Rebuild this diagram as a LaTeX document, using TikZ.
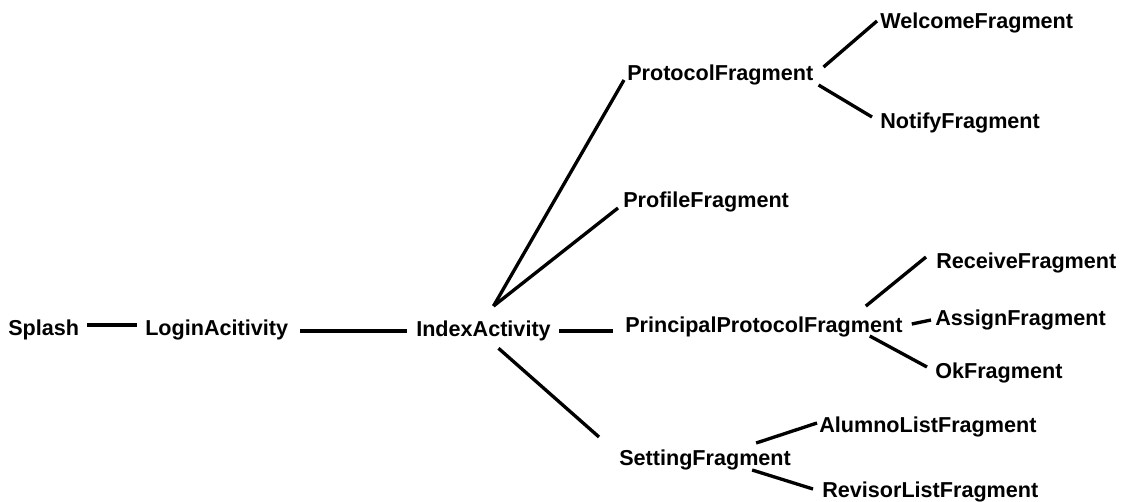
\documentclass[tikz,border=0pt]{standalone}
\usepackage{fontspec}
\setmainfont{Liberation Sans}
\usepackage{tikz}

\begin{document}
\begin{tikzpicture}
[x=0.75pt, y=-0.75pt,
screen/.style={anchor=base west, inner sep=0pt, text depth=0pt,
  font=\fontsize{16.2}{19}\selectfont\bfseries},
link/.style={line width=2.5pt}]
  \useasboundingbox (0,0) rectangle (1124,501);

  \node [screen] (splash) at (8,335) {Splash};
  \node [screen] (login) at (145,335) {LoginAcitivity};
  \node [screen] (index) at (416,336) {IndexActivity};
  \node [screen] (protocol) at (627,80) {ProtocolFragment};
  \node [screen] (profile) at (623,207) {ProfileFragment};
  \node [screen] (principal) at (625,332) {PrincipalProtocolFragment};
  \node [screen] (setting) at (619,465) {SettingFragment};
  \node [screen] (welcome) at (880,28) {WelcomeFragment};
  \node [screen] (notify) at (880,128) {NotifyFragment};
  \node [screen] (receive) at (936,268) {ReceiveFragment};
  \node [screen] (assign) at (935,325) {AssignFragment};
  \node [screen] (ok) at (935,378) {OkFragment};
  \node [screen] (alumno) at (819,432) {AlumnoListFragment};
  \node [screen] (revisor) at (822,497) {RevisorListFragment};

  \draw [link] ([shift={(8,-10)}]splash.base east) -- ([shift={(-8,-10)}]login.base west);
  \draw [link] ([shift={(12,-4)}]login.base east) -- ([shift={(-9,-5)}]index.base west);
  \draw [link] ([shift={(8,-5)}]index.base east) -- ([shift={(-12,-1)}]principal.base west);
  \draw [link] ([shift={(10,-14)}]index.north) -- ([shift={(-3,0)}]protocol.base west);
  \draw [link] ([shift={(10,-14)}]index.north) -- ([shift={(-5,1)}]profile.base west);
  \draw [link] ([shift={(15,12)}]index.south) -- ([shift={(-20,-28)}]setting.base west);
  \draw [link] ([shift={(10,-13)}]protocol.base east) -- ([shift={(-3,-7)}]welcome.base west);
  \draw [link] ([shift={(5,5)}]protocol.base east) -- ([shift={(-8,-11)}]notify.base west);
  \draw [link] ([shift={(-37,-10)}]principal.north east) -- ([shift={(-10,-11)}]receive.base west);
  \draw [link] ([shift={(9,-8)}]principal.base east) -- ([shift={(-4,-5)}]assign.base west);
  \draw [link] ([shift={(-33,4)}]principal.base east) -- ([shift={(-8,-11)}]ok.base west);
  \draw [link] ([shift={(-35,-22)}]setting.base east) -- ([shift={(-2,-9)}]alumno.base west);
  \draw [link] ([shift={(-39,5)}]setting.base east) -- ([shift={(-9,-8)}]revisor.base west);
\end{tikzpicture}
\end{document}
